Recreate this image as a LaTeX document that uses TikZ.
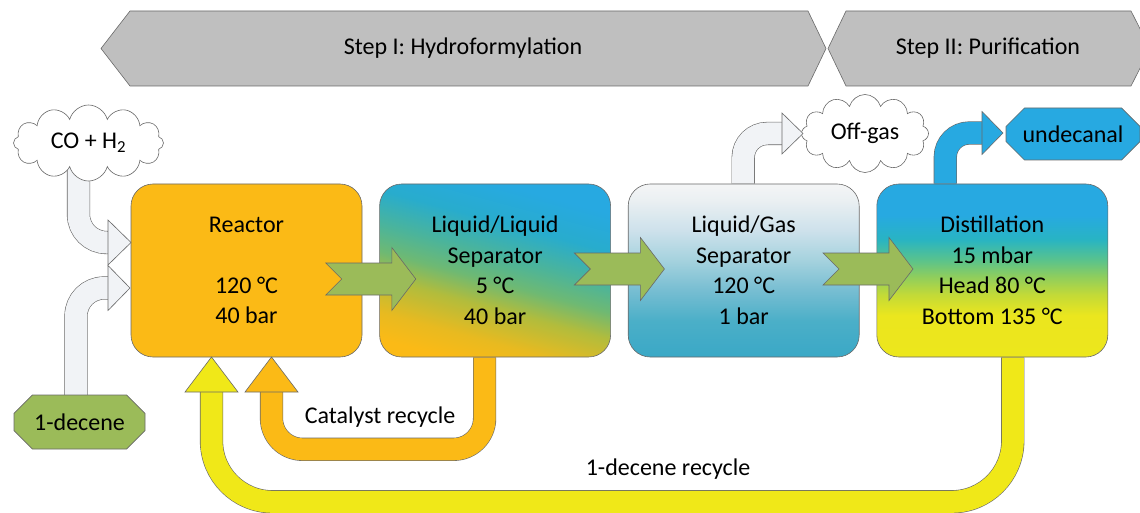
\documentclass[tikz,border=0pt]{standalone}
\usepackage{fontspec}
\setmainfont{Carlito}
\usetikzlibrary{positioning,calc,shapes.symbols,shapes.misc}

\definecolor{reactorange}{RGB}{251,186,22}
\definecolor{recyellow}{RGB}{240,232,24}
\definecolor{flowgreen}{RGB}{155,187,89}
\definecolor{prodblue}{RGB}{39,169,225}
\definecolor{feedgray}{RGB}{241,243,246}
\definecolor{bannergray}{RGB}{191,191,191}
\definecolor{edgegray}{RGB}{105,105,105}

\pgfdeclareverticalshading{llshade}{100bp}{color(0bp)=(reactorange); color(24bp)=(reactorange);
  color(31bp)=(rgb,255:red,232;green,186;blue,32); color(40bp)=(rgb,255:red,178;green,188;blue,60);
  color(47bp)=(rgb,255:red,110;green,185;blue,115); color(54bp)=(rgb,255:red,75;green,180;blue,155);
  color(63bp)=(rgb,255:red,40;green,172;blue,205); color(73bp)=(prodblue); color(100bp)=(prodblue)}
\pgfdeclareverticalshading{lgshade}{100bp}{color(0bp)=(rgb,255:red,58;green,168;blue,198);
  color(25bp)=(rgb,255:red,58;green,168;blue,198); color(35.5bp)=(rgb,255:red,75;green,175;blue,200);
  color(44.5bp)=(rgb,255:red,120;green,190;blue,210); color(53bp)=(rgb,255:red,165;green,210;blue,222);
  color(61.5bp)=(rgb,255:red,205;green,225;blue,235); color(70.5bp)=(rgb,255:red,235;green,240;blue,242);
  color(75bp)=(rgb,255:red,244;green,245;blue,246); color(100bp)=(rgb,255:red,244;green,245;blue,246)}
\pgfdeclareverticalshading{distshade}{100bp}{color(0bp)=(recyellow); color(37bp)=(rgb,255:red,235;green,230;blue,30);
  color(43bp)=(rgb,255:red,195;green,218;blue,55); color(48.5bp)=(rgb,255:red,140;green,205;blue,95);
  color(53bp)=(rgb,255:red,90;green,195;blue,140); color(59bp)=(rgb,255:red,40;green,180;blue,195);
  color(66bp)=(prodblue); color(100bp)=(prodblue)}

\pgfdeclarelayer{back}
\pgfsetlayers{back,main}

\tikzset{
  pics/flowarrow/.style={code={
    \draw[draw=edgegray, line width=0.6pt, fill=flowgreen]
      (-45,16) -- (21,16) -- (21,31.5) -- (45,0) -- (21,-31.5) -- (21,-16) -- (-45,-16) -- (-29,0) -- cycle;}},
  pics/bhead/.style n args={3}{code={
    \draw[draw=edgegray, line width=0.6pt, fill=#1] (0,-#2) -- (#3,0) -- (0,#2) -- cycle;}},
}

\begin{document}
\begin{tikzpicture}[x=1pt, y=-1pt,
  every node/.style={font=\fontsize{24}{30.5}\selectfont, text=black},
  procbox/.style={draw=edgegray, line width=0.6pt, rounded corners=22pt,
    minimum width=231pt, minimum height=173pt, align=center},
  cloudnode/.style={cloud, cloud puffs=12, cloud ignores aspect, draw=edgegray,
    line width=0.6pt, fill=white, inner sep=0pt},
  termbox/.style={chamfered rectangle, chamfered rectangle xsep=10pt,
    chamfered rectangle ysep=10pt, draw=edgegray, line width=0.6pt, inner sep=0pt},
  pipe/.style={draw=edgegray, line width=0.6pt, double=#1, double distance=22pt},
  banner/.style={draw=edgegray, line width=0.6pt, fill=bannergray}]
\useasboundingbox (0,0) rectangle (1140,513);

% step banners
\draw[banner] (101,48.5) -- (130,11) -- (808,11) -- (826,48.5) -- (808,86) -- (130,86) -- cycle;
\draw[banner] (828,48.5) -- (846,11) -- (1131,11) -- (1150,48.5) -- (1131,86) -- (846,86) -- cycle;
\node (stepone) at (463,48.5) {Step I: Hydroformylation};
\node (steptwo) at (988,48.5) {Step II: Purification};

% process units
\node[procbox, fill=reactorange] (reactor) at (246.5,270.5) {Reactor\\~\\120 °C\\40 bar};
\node[procbox, shade, shading=llshade, shading angle=-15, right=17pt of reactor] (llsep)
  {Liquid/Liquid\\Separator\\5 °C\\40 bar};
\node[procbox, shade, shading=lgshade, right=17pt of llsep] (lgsep)
  {Liquid/Gas\\Separator\\120 °C\\1 bar};
\node[procbox, shade, shading=distshade, right=17pt of lgsep] (dist)
  {Distillation\\15 mbar\\Head 80 °C\\Bottom 135 °C};

% feeds and products
\node[cloudnode, minimum width=150pt, minimum height=76pt] (cogas) at (88.5,143) {CO + H\textsubscript{2}};
\node[cloudnode, minimum width=127pt, minimum height=78pt] (offgas) at (865,133.5) {Off-gas};
\node[termbox, fill=flowgreen, minimum width=131pt, minimum height=54pt] (decene) at (79.5,422) {1-decene};
\node[termbox, fill=prodblue, minimum width=134pt, minimum height=52pt] (undecanal) at (1073,134) {undecanal};

% heads of the bent arrows
\coordinate (coin) at (108,242.5);
\coordinate (decin) at (108,288);
\coordinate (cathead) at (271.5,392);
\coordinate (rechead) at (211.5,392);
\coordinate (gashead) at (782,133.5);
\coordinate (prodhead) at (982,133);

\begin{pgfonlayer}{back}
\draw[pipe=feedgray, rounded corners=28pt] ([xshift=-10pt]cogas.center) |- (coin);
\draw[pipe=feedgray, rounded corners=28pt] ([xshift=-3.5pt]decene.center) |- (decin);
\draw[pipe=reactorange, rounded corners=31pt] ([xshift=-10.5pt]llsep.south) -- ++(0,92) -| (cathead);
\draw[pipe=recyellow, rounded corners=61pt] ([xshift=20.5pt]dist.south) -- ++(0,144.5) -| (rechead);
\draw[pipe=feedgray, rounded corners=24pt] ([xshift=-0.5pt]lgsep.north) |- (gashead);
\draw[pipe=prodblue, rounded corners=24pt] ([xshift=-47pt]dist.north) |- (prodhead);
\end{pgfonlayer}

\pic at (coin) {bhead={feedgray}{22.5}{23}};
\pic at (decin) {bhead={feedgray}{22.5}{22}};
\pic[rotate=90] at (cathead) {bhead={reactorange}{26.5}{35}};
\pic[rotate=90] at (rechead) {bhead={recyellow}{26.5}{35}};
\pic at (gashead) {bhead={feedgray}{20.5}{21}};
\pic at (prodhead) {bhead={prodblue}{21.5}{21}};

% main flow
\pic at ($(reactor.east)!0.5!(llsep.west)+(0,8.5)$) {flowarrow};
\pic at ($(llsep.east)!0.5!(lgsep.west)+(0,-1.5)$) {flowarrow};
\pic at ($(lgsep.east)!0.5!(dist.west)+(0,-1.5)$) {flowarrow};

\node (catlabel) at (380,417) {Catalyst recycle};
\node (reclabel) at (668,469) {1-decene recycle};
\end{tikzpicture}
\end{document}
